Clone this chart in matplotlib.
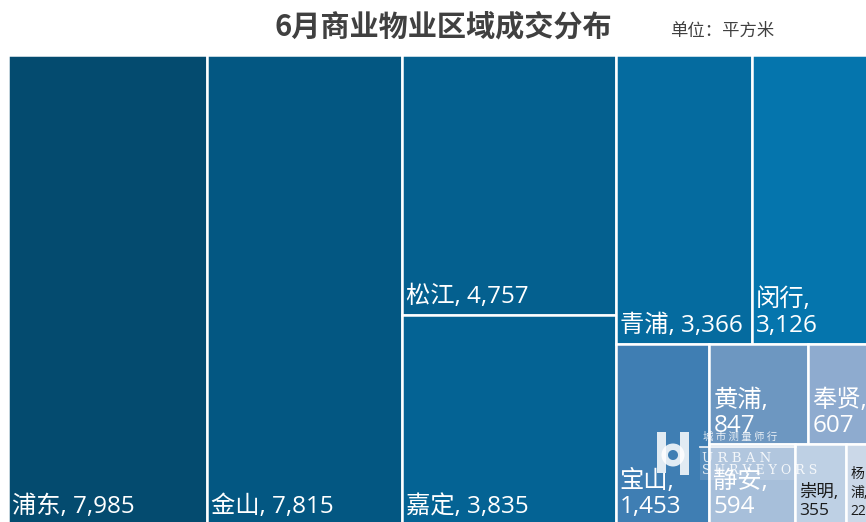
import matplotlib
matplotlib.use("Agg")
import matplotlib.pyplot as plt
from matplotlib.patches import Rectangle, Wedge

plt.rcParams['font.family'] = ['Noto Sans CJK SC', 'DejaVu Sans']
LABEL_FONT = ['Open Sans', 'Noto Sans CJK SC', 'DejaVu Sans']

# ---------------- data ----------------
districts = ['浦东', '金山', '松江', '嘉定', '青浦', '闵行', '宝山', '黄浦', '奉贤', '静安', '崇明', '杨浦']
areas = [7985, 7815, 4757, 3835, 3366, 3126, 1453, 847, 607, 594, 355, 225]
title = '6月商业物业区域成交分布'
unit_label = '单位：平方米'

values = dict(zip(districts, areas))

# ---------------- styles ----------------
colors = {
    '浦东': '#044B6F', '金山': '#035782', '松江': '#04608F', '嘉定': '#046394',
    '青浦': '#056B9F', '闵行': '#0575AD', '宝山': '#3F7EB3', '黄浦': '#6D97C1',
    '奉贤': '#8EABCF', '静安': '#A7BFDA', '崇明': '#BED0E4', '杨浦': '#CBD8E8',
}
wrap = {'闵行': 1, '宝山': 1, '黄浦': 1, '奉贤': 1, '静安': 1, '崇明': 1, '杨浦': 2}
fsize = {'崇明': 12.5, '杨浦': 10}
lspace = {'崇明': 1.15, '杨浦': 1.3}
dark_text = {'崇明', '杨浦'}

# nesting of the treemap (h = side by side, v = stacked)
structure = ('h', ['浦东', '金山', ('v', ['松江', '嘉定']),
                   ('v', [('h', ['青浦', '闵行']),
                          ('h', ['宝山', ('v', [('h', ['黄浦', '奉贤']),
                                               ('h', ['静安', '崇明', '杨浦'])])])])])


def total(node):
    if isinstance(node, str):
        return values[node]
    return sum(total(c) for c in node[1])


def layout(node, x, y, w, h, out):
    if isinstance(node, str):
        out[node] = (x, y, w, h)
        return
    d, children = node
    s = total(node)
    for c in children:
        f = total(c) / s
        if d == 'h':
            cw = w * f
            layout(c, x, y, cw, h, out)
            x += cw
        else:
            ch = h * f
            layout(c, x, y, w, ch, out)
            y += ch


W_PX, H_PX = 866, 522
fig = plt.figure(figsize=(W_PX / 100, H_PX / 100), dpi=100)

# treemap area (in pixels): extends slightly past the figure edge (cropped)
left, top, tw, th = 8, 55, 871, 470
ax = fig.add_axes([left / W_PX, 1 - (top + th) / H_PX, tw / W_PX, th / H_PX])
ax.set_xlim(0, tw)
ax.set_ylim(th, 0)
ax.axis('off')

rects = {}
layout(structure, 0, 0, tw, th, rects)

for name in districts:
    x, y, w, h = rects[name]
    ax.add_patch(Rectangle((x, y), w, h, facecolor=colors[name],
                           edgecolor='white', linewidth=1.8))
    v = f'{values[name]:,}'
    mode = wrap.get(name, 0)
    if mode == 0:
        lab = f'{name}, {v}'
    elif mode == 1:
        lab = f'{name},\n{v}'
    else:
        lab = f'{name[0]}\n{name[1]},\n{v}'
    ax.text(x + 4, y + h - 6, lab, ha='left', va='bottom', family=LABEL_FONT,
            fontsize=fsize.get(name, 17.5), linespacing=lspace.get(name, 1.08),
            color='#1a1a1a' if name in dark_text else 'white', clip_on=True)

# watermark
a = 0.85
ax.add_patch(Rectangle((692, 392), 96, 33, facecolor='white', alpha=0.12, edgecolor='none'))
ax.add_patch(Rectangle((649, 377), 9, 41, facecolor='white', alpha=a, edgecolor='none'))
ax.add_patch(Rectangle((672, 377), 9, 43, facecolor='white', alpha=a, edgecolor='none'))
ax.add_patch(Wedge((665, 400), 11.5, 0, 360, width=6.5, facecolor='white', alpha=a, edgecolor='none'))
ax.text(695, 382, '城 市 测 量 师 行', fontsize=7.5, va='center', ha='left', color='white', alpha=a)
ax.plot([692, 788], [392, 392], color='white', lw=1.3, alpha=a)
ax.text(694, 403, 'U R B A N', fontsize=9.5, va='center', ha='left', family='DejaVu Serif',
        color='white', alpha=a)
ax.text(694, 416, 'S U R V E Y O R S', fontsize=9, va='center', ha='left', family='DejaVu Serif',
        color='white', alpha=a)

fig.text(443 / W_PX, 1 - 26 / H_PX, title, ha='center', va='center',
         fontsize=21, fontweight='bold', color='#404040')
fig.text(670 / W_PX, 1 - 31 / H_PX, unit_label, ha='left', va='center',
         fontsize=12.5, color='#404040')

fig.savefig('out.png', dpi=100)
